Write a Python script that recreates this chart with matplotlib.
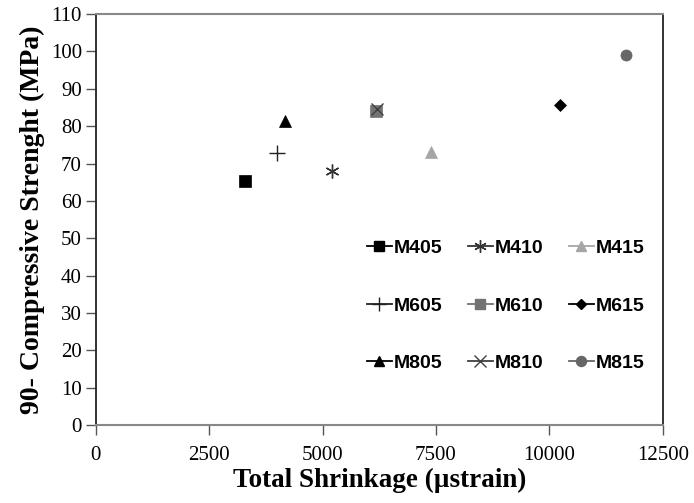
import matplotlib.pyplot as plt
from matplotlib.lines import Line2D

# mixes and their (shrinkage, strength)
mixes = ['M405', 'M410', 'M415', 'M605', 'M610', 'M615', 'M805', 'M810', 'M815']
shrinkage = [3300, 5200, 7390, 4000, 6180, 10230, 4180, 6200, 11680]
strength = [65.2, 68.0, 73.1, 72.8, 84.0, 85.7, 81.5, 84.5, 99.0]

markers = ['s', (6, 2, 0), '^', '+', 's', 'D', '^', 'x', 'o']
colors = ['#000000', '#333333', '#a6a6a6', '#222222', '#737373',
          '#000000', '#000000', '#404040', '#666666']
sizes = [8, 10, 8, 11, 8, 6, 8, 9, 8]

fig = plt.figure(figsize=(6.94, 5.03), dpi=100)
ax = fig.add_axes([0.138, 0.155, 0.817, 0.817])

handles = {}
for m, x, y, mk, c, s in zip(mixes, shrinkage, strength, markers, colors, sizes):
    ax.plot([x], [y], linestyle='none', marker=mk, color=c, markersize=s,
            markeredgewidth=1.0 if mk in ('+', 'x') or isinstance(mk, tuple) else 0.5)
    handles[m] = Line2D([], [], color=c, marker=mk, markersize=s * 0.9,
                        linewidth=1.3, markeredgewidth=1.0)

ax.set_xlim(0, 12500)
ax.set_ylim(0, 110)
ax.set_xticks(range(0, 12501, 2500))
ax.set_yticks(range(0, 111, 10))

for sp in ('top', 'bottom'):
    ax.spines[sp].set_color('#888888')
    ax.spines[sp].set_linewidth(1.5)
for sp in ('left', 'right'):
    ax.spines[sp].set_color('#222222')
    ax.spines[sp].set_linewidth(1.3)

serif = 'Liberation Serif'
ax.tick_params(axis='y', direction='out', length=7, width=1.0, color='#555555',
               labelsize=15, pad=3)
ax.tick_params(axis='x', direction='out', length=7, width=1.0, color='#555555',
               labelsize=15, pad=8)
for lab in ax.get_xticklabels() + ax.get_yticklabels():
    lab.set_fontfamily(serif)

ax.set_xlabel('Total Shrinkage (\u00b5strain)', fontfamily=serif, fontweight='bold',
              fontsize=19.5, labelpad=2)
ax.set_ylabel('90- Compressive Strenght (MPa)', fontfamily=serif, fontweight='bold',
              fontsize=20, labelpad=4)

# legend: rows M4xx / M6xx / M8xx, filled column-wise
order = ['M405', 'M605', 'M805', 'M410', 'M610', 'M810', 'M415', 'M615', 'M815']
ax.legend([handles[m] for m in order], order, ncol=3, loc='center',
          bbox_to_anchor=(0.723, 0.29), frameon=False,
          prop={'family': 'Liberation Sans', 'weight': 'bold', 'size': 14},
          handlelength=1.3, handletextpad=0.1, columnspacing=1.3,
          labelspacing=2.05)

fig.savefig('out.png', dpi=100)
